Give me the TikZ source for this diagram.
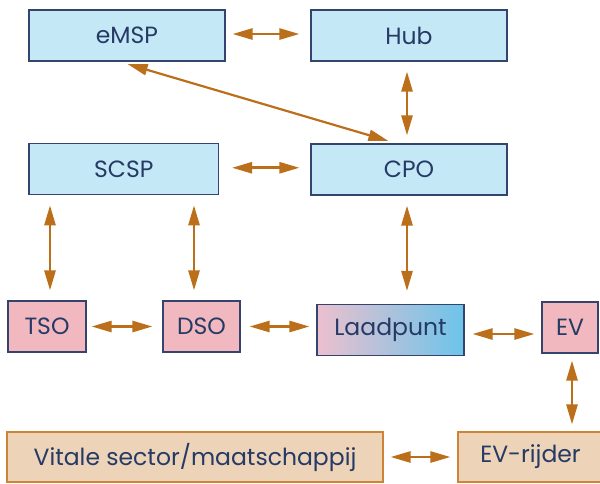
\documentclass[tikz,border=0pt]{standalone}
\usepackage{fontspec}
\setmainfont{Poppins}
\usetikzlibrary{arrows.meta}

\definecolor{boxblue}{RGB}{197,232,247}
\definecolor{boxpink}{RGB}{242,184,192}
\definecolor{boxtan}{RGB}{237,211,184}
\definecolor{edgenavy}{RGB}{52,68,108}
\definecolor{edgetan}{RGB}{204,132,55}
\definecolor{textnavy}{RGB}{37,58,101}
\definecolor{arrowbrown}{RGB}{188,111,26}
\definecolor{shadepink}{RGB}{236,192,206}
\definecolor{shadeblue}{RGB}{108,196,234}

\begin{document}
\begin{tikzpicture}[x=1pt,y=-1pt,line join=miter,
        actor/.style={draw=edgenavy,line width=1.1pt,text=textnavy,
            font=\fontsize{23.5}{27}\selectfont,inner sep=0pt,
            minimum height=51pt},
        bluebox/.style={actor,fill=boxblue},
        pinkbox/.style={actor,fill=boxpink},
        tanbox/.style={actor,fill=boxtan,draw=edgetan,minimum height=50pt},
        flow/.style={{Triangle[length=20pt,width=11pt]}-{Triangle[length=20pt,width=11pt]},
            draw=arrowbrown,line width=2.6pt}]
        \useasboundingbox (0,0) rectangle (600,483);

        % Bovenste rij
        \node[bluebox,minimum width=196pt] (emsp) at (127,35.5) {eMSP};
        \node[bluebox,minimum width=196pt] (hub) at (409,35.5) {Hub};
        \node[bluebox,minimum width=189.5pt] (scsp) at (123.75,169.25) {SCSP};
        \node[bluebox,minimum width=196pt] (cpo) at (409,169.5) {CPO};

        % Netbeheerders, laadpunt en voertuig
        \node[pinkbox,minimum width=78pt] (tso) at (47,326.5) {TSO};
        \node[pinkbox,minimum width=77pt] (dso) at (201.5,326.5) {DSO};
        \node[actor,minimum width=147pt,left color=shadepink,right color=shadeblue]
            (laadpunt) at (390.5,330) {Laadpunt};
        \node[pinkbox,minimum width=56pt] (ev) at (570,327.5) {EV};

        % Onderste rij
        \node[tanbox,minimum width=376pt] (vitaal) at (195,457) {Vitale sector/maatschappij};
        \node[tanbox,minimum width=145pt] (rijder) at (530.5,457) {EV-rijder};

        % Horizontale verbindingen
        \draw[flow,shorten <=7pt,shorten >=11pt] ([yshift=1.5pt]emsp.east) -- ([yshift=1.5pt]emsp.east -| hub.west);
        \draw[flow,shorten <=13pt,shorten >=11pt] ([yshift=1.5pt]scsp.east) -- ([yshift=1.5pt]scsp.east -| cpo.west);
        \draw[flow,shorten <=5pt,shorten >=10pt] (tso.east) -- (tso.east -| dso.west);
        \draw[flow,shorten <=9pt,shorten >=7pt] (dso.east) -- (dso.east -| laadpunt.west);
        \draw[flow,shorten <=8pt,shorten >=7pt] ([yshift=-4pt]laadpunt.east) -- ([yshift=-4pt]laadpunt.east -| ev.west);
        \draw[flow,shorten <=7pt,shorten >=7pt] (vitaal.east) -- (vitaal.east -| rijder.west);

        % Verticale verbindingen
        \draw[flow,shorten <=10pt,shorten >=8pt] ([xshift=-2pt]hub.south) -- ([xshift=-2pt]hub.south |- cpo.north);
        \draw[flow,shorten <=10pt,shorten >=10pt] ([xshift=3pt]tso.north |- scsp.south) -- ([xshift=3pt]tso.north);
        \draw[flow,shorten <=10pt,shorten >=10pt] ([xshift=-7.5pt]dso.north |- scsp.south) -- ([xshift=-7.5pt]dso.north);
        \draw[flow,shorten <=10pt,shorten >=13pt] ([xshift=-2pt]cpo.south) -- ([xshift=-2pt]cpo.south |- laadpunt.north);
        \draw[flow,shorten <=7pt,shorten >=7pt] ([xshift=2pt]ev.south) -- ([xshift=2pt]ev.south |- rijder.north);

        % Schuine verbinding
        \draw[flow,line width=2.2pt,shorten <=9pt,shorten >=9pt]
            ([xshift=-8pt]emsp.south) -- ([xshift=-12pt]cpo.north);
    \end{tikzpicture}
\end{document}
